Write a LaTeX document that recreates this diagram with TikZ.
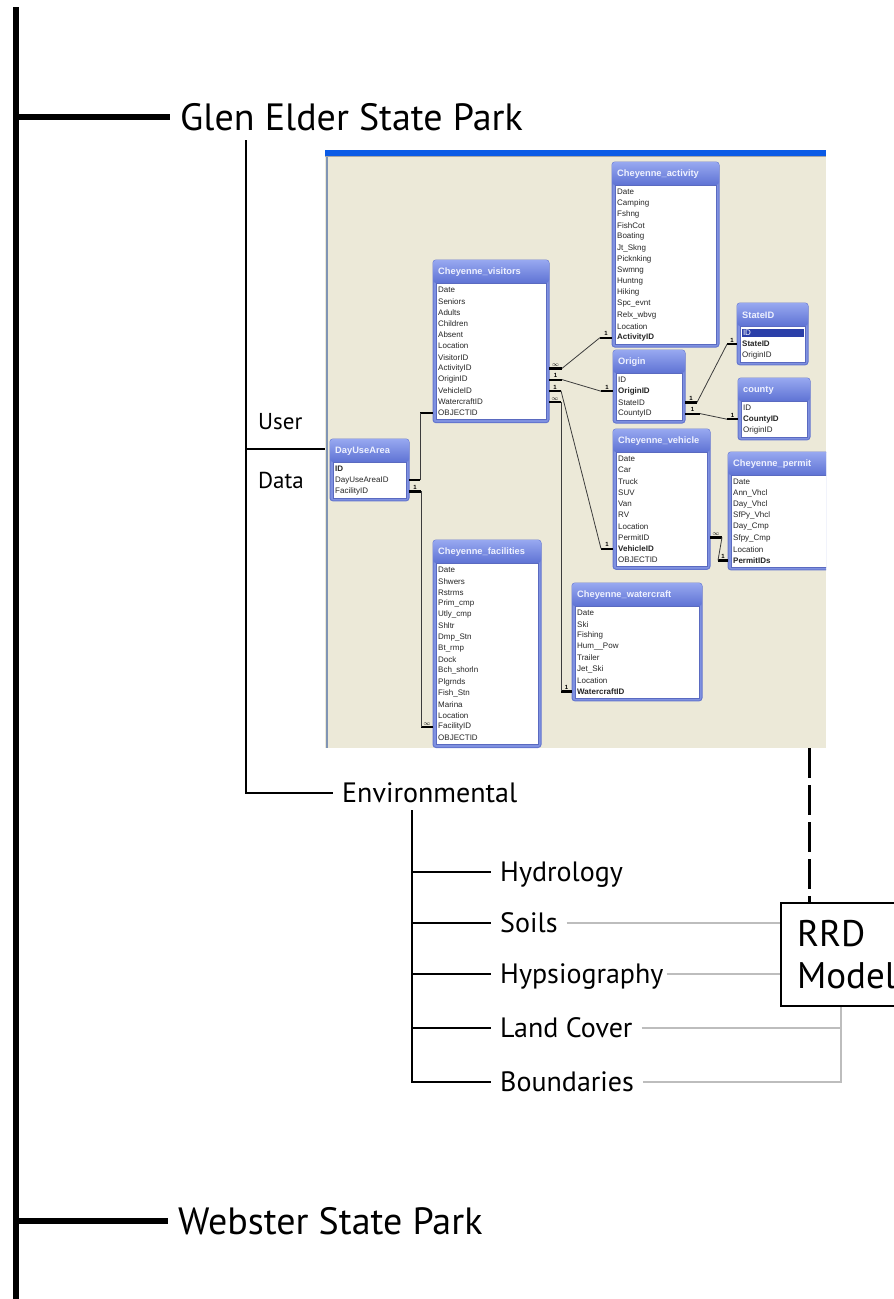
\documentclass[tikz,border=0pt]{standalone}
\usepackage{fontspec}
\setmainfont{PT Sans}
\newfontfamily\tabfont{Liberation Sans}
\usepackage{xcolor}
\usetikzlibrary{calc}

\definecolor{shotbg}{HTML}{ECE9D8}
\definecolor{xpblue}{HTML}{0B5BE6}
\definecolor{shotedge}{HTML}{8094B4}
\definecolor{tabfill}{HTML}{7F91E0}
\definecolor{tabedge}{HTML}{6476CF}
\definecolor{tabline}{HTML}{5A6AC0}
\definecolor{hdtop}{HTML}{97A8F0}
\definecolor{hdbot}{HTML}{5F73D4}
\definecolor{hdtext}{HTML}{EEF1FF}
\definecolor{selbg}{HTML}{2B3FA8}
\definecolor{relgray}{HTML}{3C3C3C}
\definecolor{linkgray}{HTML}{BDBDBD}

\newcommand{\hl}[1]{{\setlength{\fboxsep}{0.8pt}\colorbox{selbg}{\makebox[60pt][l]{\color{white}#1}}}}

\newcommand{\dbtable}[7]{%
	\pgfmathsetmacro{\tabh}{28.3+#5*11.2}
	\node[tabframe, minimum width=#4pt, minimum height=\tabh pt] (#1) at (#2,#3) {};
	\shade[top color=hdtop, bottom color=hdbot, rounded corners=3pt] (#1.north west) rectangle ($(#1.north east)+(0,23)$);
	\node[tabtitle] (#1-t) at ($(#1.north west)+(5,12)$) {#6};
	\filldraw[fill=white, draw=tabline, line width=0.6pt] ($(#1.north west)+(3,23)$) rectangle ($(#1.south east)+(-3,-3)$);
	\foreach \fld [count=\i] in {#7}
		\node[field] (#1-\i) at ($(#1.north west)+(5,{30+(\i-1)*11.2})$) {\fld};
}

\begin{document}
\begin{tikzpicture}[x=1pt, y=-1pt]
		\tikzstyle{trunk} = [line width=6.5pt]
		\tikzstyle{branch} = [line width=1.8pt]
		\tikzstyle{gline} = [line width=1.4pt, draw=linkgray]
		\tikzstyle{dashline} = [line width=3pt, dash pattern=on 30pt off 7pt]
		\tikzstyle{park} = [font=\fontsize{38}{40}\selectfont, anchor=west, inner xsep=10pt, inner ysep=0pt, text height=26.6pt, text depth=0pt]
		\tikzstyle{sublabel} = [font=\fontsize{28}{30}\selectfont, anchor=west, inner xsep=9pt, inner ysep=0pt, text height=19.6pt, text depth=0pt]
		\tikzstyle{udlabel} = [font=\fontsize{23}{25}\selectfont, anchor=west, inner xsep=4pt, inner ysep=0pt, text height=16pt, text depth=0pt]
		\tikzstyle{rrdbox} = [draw, line width=2pt, anchor=north west, minimum width=120pt, minimum height=103pt, text width=88pt, inner xsep=16pt, align=left, font=\fontsize{37}{42}\selectfont]
		\tikzstyle{shotbox} = [anchor=north west, fill=shotbg, minimum width=501pt, minimum height=598pt, inner sep=0pt, outer sep=0pt]
		\tikzstyle{tabframe} = [anchor=north west, fill=tabfill, draw=tabedge, line width=1pt, rounded corners=3pt, inner sep=0pt, outer sep=0pt]
		\tikzstyle{tabtitle} = [anchor=west, inner sep=0pt, text=hdtext, font=\tabfont\bfseries\fontsize{9.3}{10}\selectfont]
		\tikzstyle{field} = [anchor=west, inner sep=0pt, text=black!85, font=\tabfont\fontsize{8}{9}\selectfont]
		\tikzstyle{stub} = [line width=2.2pt]
		\tikzstyle{relline} = [line width=0.8pt, draw=relgray]
		\tikzstyle{card} = [midway, above, inner sep=0.6pt, font=\tabfont\bfseries\fontsize{6}{6}\selectfont]

		\useasboundingbox (0,0) rectangle (894,1299);

		\coordinate (top) at (16,7);
		\coordinate (bot) at (16,1299);
		\node[park] (glen) at (170,117) {Glen Elder State Park};
		\node[park] (webster) at (168,1221) {Webster State Park};
		\draw[trunk] (top) -- (bot);
		\draw[trunk] (top |- glen.west) -- (glen.west);
		\draw[trunk] (top |- webster.west) -- (webster.west);

		\node[shotbox] (shot) at (325,150) {};
		\fill[xpblue] (shot.north west) rectangle ($(shot.north east)+(0,6)$);
		\draw[gray!70, line width=0.8pt] ($(shot.north west)+(0,6.5)$) -- ($(shot.north east)+(0,6.5)$);
		\draw[shotedge, line width=2.5pt] ($(shot.north west)+(2,7)$) -- ($(shot.south west)+(2,0)$);

		\begin{scope}
			\clip (shot.north west) rectangle (shot.south east);
			\dbtable{act}{612}{162}{107}{14}{Cheyenne\_activity}{Date, Camping, Fshng, FishCot, Boating, Jt\_Skng, Picknking, Swmng, Huntng, Hiking, Spc\_evnt, Relx\_wbvg, Location, \textbf{ActivityID}}
			\dbtable{vis}{433}{260}{116}{12}{Cheyenne\_visitors}{Date, Seniors, Adults, Children, Absent, Location, VisitorID, ActivityID, OriginID, VehicleID, WatercraftID, OBJECTID}
			\dbtable{state}{737}{303}{71}{3}{StateID}{\hl{ID}, \textbf{StateID}, OriginID}
			\dbtable{orig}{613}{350}{72}{4}{Origin}{ID, \textbf{OriginID}, StateID, CountyID}
			\dbtable{cnty}{738}{378}{72}{3}{county}{ID, \textbf{CountyID}, OriginID}
			\dbtable{veh}{613}{429}{97}{10}{Cheyenne\_vehicle}{Date, Car, Truck, SUV, Van, RV, Location, PermitID, \textbf{VehicleID}, OBJECTID}
			\dbtable{perm}{728}{452}{106}{8}{Cheyenne\_permit}{Date, Ann\_Vhcl, Day\_Vhcl, SfPy\_Vhcl, Day\_Cmp, Sfpy\_Cmp, Location, \textbf{PermitIDs}}
			\dbtable{wat}{572}{583}{130}{8}{Cheyenne\_watercraft}{Date, Ski, Fishing, Hum\_\_Pow, Trailer, Jet\_Ski, Location, \textbf{WatercraftID}}
			\dbtable{day}{330}{439}{79}{3}{DayUseArea}{\textbf{ID}, DayUseAreaID, FacilityID}
			\dbtable{fac}{433}{540}{108}{16}{Cheyenne\_facilities}{Date, Shwers, Rstrms, Prim\_cmp, Utly\_cmp, Shltr, Dmp\_Stn, Bt\_rmp, Dock, Bch\_shorln, Plgrnds, Fish\_Stn, Marina, Location, FacilityID, OBJECTID}

			\draw[stub] (vis.east |- vis-8) -- ++(13,0) coordinate (r1a) node[card] {$\infty$};
			\draw[stub] (act.west |- act-14) -- ++(-12,0) coordinate (r1b) node[card] {1};
			\draw[relline] (r1a) -- (r1b);
			\draw[stub] (vis.east |- vis-9) -- ++(13,0) coordinate (r2a) node[card] {1};
			\draw[stub] (orig.west |- orig-2) -- ++(-12,0) coordinate (r2b) node[card] {1};
			\draw[relline] (r2a) -- (r2b);
			\draw[stub] (vis.east |- vis-10) -- ++(12,0) coordinate (r3a) node[card] {1};
			\draw[stub] (veh.west |- veh-9) -- ++(-12,0) coordinate (r3b) node[card] {1};
			\draw[relline] (r3a) -- (r3b);
			\draw[stub] (vis.east |- vis-11) -- ++(12,0) coordinate (r4a) node[card] {$\infty$};
			\draw[stub] (wat.west |- wat-8) -- ++(-11,0) coordinate (r4b) node[card] {1};
			\draw[relline] (r4a) |- (r4b);
			\draw[stub] (day.east |- day-2) -- ++(11,0) coordinate (r5a);
			\draw[stub] (vis.west |- vis-12) -- ++(-13,0) coordinate (r5b);
			\draw[relline] (r5a) -- (r5b);
			\draw[stub] (day.east |- day-3) -- ++(12,0) coordinate (r6a) node[card] {1};
			\draw[stub] (fac.west |- fac-15) -- ++(-12,0) coordinate (r6b) node[card] {$\infty$};
			\draw[relline] (r6a) |- (r6b);
			\draw[stub] (orig.east |- orig-3) -- ++(12,0) coordinate (r7a) node[card] {1};
			\draw[stub] (state.west |- state-2) -- ++(-10,0) coordinate (r7b) node[card] {1};
			\draw[relline] (r7a) -- (r7b);
			\draw[stub] (orig.east |- orig-4) -- ++(15,0) coordinate (r8a) node[card] {1};
			\draw[stub] (cnty.west |- cnty-2) -- ++(-11,0) coordinate (r8b) node[card] {1};
			\draw[relline] (r8a) -- (r8b);
			\draw[stub] (veh.east |- veh-8) -- ++(12,0) coordinate (r9a) node[card] {$\infty$};
			\draw[stub] (perm.west |- perm-8) -- ++(-10,0) coordinate (r9b) node[card] {1};
			\draw[relline] (r9a) -- (r9b);
		\end{scope}

		\coordinate (gsplit) at (246,140);
		\node[udlabel] (user) at (254,421) {User};
		\node[udlabel] (data) at (254,480) {Data};
		\node[sublabel] (env) at (333,793) {Environmental};
		\draw[branch] (gsplit) |- (env.west);
		\draw[branch] (gsplit |- shot.west) -- (shot.west);

		\coordinate (esplit) at (412,810);
		\node[sublabel] (hydro) at (491,872) {Hydrology};
		\node[sublabel] (soils) at (491,923) {Soils};
		\node[sublabel] (hyps) at (491,974) {Hypsiography};
		\node[sublabel] (land) at (491,1028) {Land Cover};
		\node[sublabel] (bound) at (491,1082) {Boundaries};
		\draw[branch] (esplit) |- (bound.west);
		\foreach \n in {hydro,soils,hyps,land}
			\draw[branch] (esplit |- \n.west) -- (\n.west);

		\node[rrdbox] (rrd) at (780,902) {RRD\\Model};
		\draw[dashline] ($(shot.south east)+(-17,0)$) -- ($(rrd.north west)+(29,0)$);
		\draw[gline] (soils.east) -- (soils.east -| rrd.west);
		\draw[gline] ($(hyps.east)+(-6,0)$) -- (hyps.east -| rrd.west);
		\draw[gline] (land.east) -- (land.east -| rrd.south);
		\draw[gline] (rrd.south) |- (bound.east);
\end{tikzpicture}
\end{document}
